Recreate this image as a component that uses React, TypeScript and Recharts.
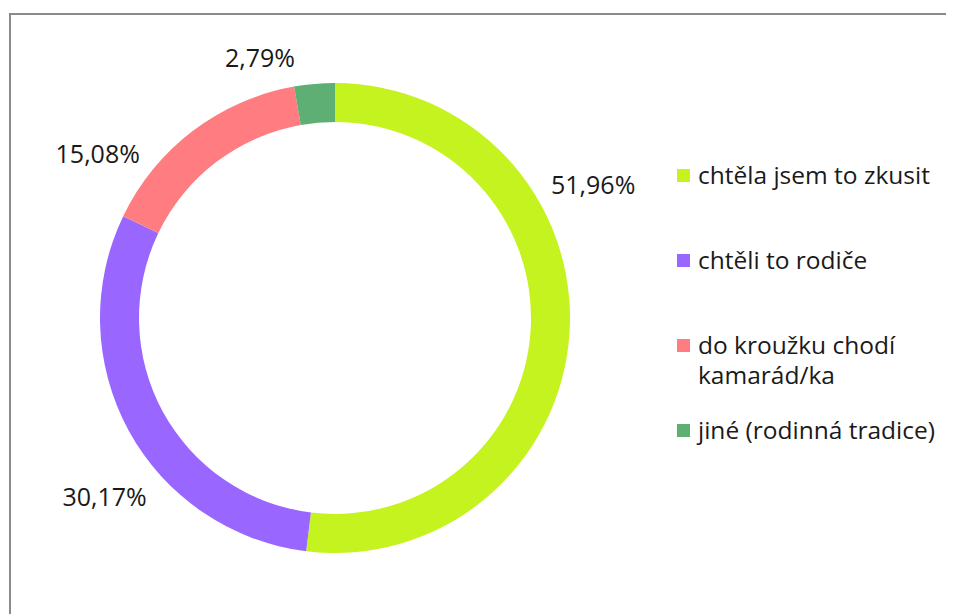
import React from "react";
import { PieChart, Pie, Cell, Legend, PieLabelRenderProps } from "recharts";

const categories = [
  "chtěla jsem to zkusit",
  "chtěli to rodiče",
  "do kroužku chodí kamarád/ka",
  "jiné (rodinná tradice)",
];
const values = [51.96, 30.17, 15.08, 2.79];
const COLORS = ["#C5F31F", "#9966FF", "#FF7C80", "#5EAF74"];

// Excel had the labels nudged around the ring, so shift each one a bit
const LABEL_SHIFT = [31, 9, 18, 11];
const LABEL_RADIUS = [291, 291, 289, 272];

const FONT = "'Open Sans', sans-serif";

const chartData = categories.map((name, i) => ({
  name,
  value: values[i],
}));

const renderLabel = (props: PieLabelRenderProps) => {
  const { cx, cy, midAngle, index, value } = props as any;
  const RADIAN = Math.PI / 180;
  const angle = (midAngle + LABEL_SHIFT[index]) * RADIAN;
  const r = LABEL_RADIUS[index];
  const x = cx + r * Math.cos(-angle);
  const y = cy + r * Math.sin(-angle);
  return (
    <text
      x={x}
      y={y}
      fill="#1a1a1a"
      textAnchor="middle"
      dominantBaseline="central"
      fontSize={25}
      fontFamily={FONT}
    >
      {`${Number(value).toFixed(2).replace(".", ",")}%`}
    </text>
  );
};

const LegendContent = ({ payload }: any) => (
  <div style={{ fontFamily: FONT, fontSize: 24.5, color: "#1a1a1a" }}>
    {(payload || []).map((entry: any, i: number) => (
      <div
        key={`leg-${i}`}
        style={{ display: "flex", alignItems: "flex-start", height: 85 }}
      >
        <span
          style={{
            width: 13,
            height: 13,
            marginTop: 9,
            marginRight: 8,
            flex: "none",
            background: entry.color,
          }}
        />
        <span style={{ lineHeight: "30px", width: 255 }}>{entry.value}</span>
      </div>
    ))}
  </div>
);

export default function App() {
  return (
    <div
      style={{
        position: "relative",
        width: 946,
        height: 606,
        overflow: "hidden",
        background: "#fff",
      }}
    >
      <div
        style={{
          position: "absolute",
          left: 1,
          top: 5,
          width: 1000,
          height: 700,
          border: "2px solid #8a8a8a",
        }}
      />
      <div style={{ position: "absolute", left: 0, top: 0 }}>
        <PieChart width={946} height={606}>
          <Pie
            data={chartData}
            dataKey="value"
            nameKey="name"
            cx={322}
            cy={305}
            outerRadius={235}
            innerRadius={196}
            startAngle={90}
            endAngle={-270}
            stroke="none"
            labelLine={false}
            label={renderLabel}
            isAnimationActive={false}
          >
            {chartData.map((_, i) => (
              <Cell key={`cell-${i}`} fill={COLORS[i]} />
            ))}
          </Pie>
          <Legend
            layout="vertical"
            content={<LegendContent />}
            wrapperStyle={{ left: 669, top: 152, width: 285 }}
          />
        </PieChart>
      </div>
    </div>
  );
}
